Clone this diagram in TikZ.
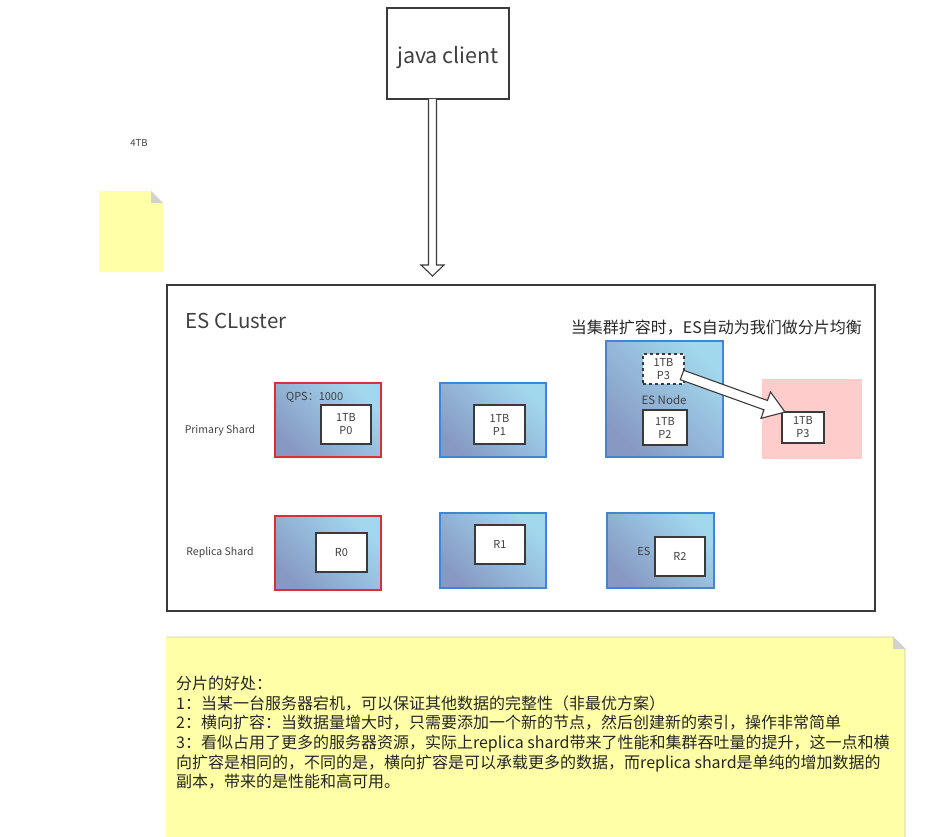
\documentclass[tikz,border=0pt]{standalone}
\usepackage{fontspec}
\setmainfont{Noto Sans CJK SC}
\usetikzlibrary{calc}
\definecolor{noteyellow}{HTML}{FFFFA8}
\definecolor{foldgray}{HTML}{D2D2D2}
\definecolor{notebord}{HTML}{C8C8B0}
\definecolor{gradDark}{HTML}{8799C3}
\definecolor{gradLight}{HTML}{A2D8EE}
\definecolor{shardred}{HTML}{DD2E35}
\definecolor{shardblue}{HTML}{3D87D6}
\definecolor{pinkbg}{HTML}{FFCCCC}
\definecolor{txtgray}{HTML}{404040}
\definecolor{linegray}{HTML}{3A3A3A}
\tikzset{
  shardbox/.style={draw=#1, line width=1.4pt, shading=axis, bottom color=gradDark, top color=gradLight, shading angle=-45,
    inner sep=0pt, outer sep=0pt, anchor=north west},
  databox/.style={draw=linegray, fill=white, line width=1.2pt, inner sep=0pt, outer sep=0pt, anchor=north west,
    align=center, text=txtgray, font=\fontsize{11}{13}\selectfont},
  smalllabel/.style={text=txtgray, font=\fontsize{11}{13}\selectfont, inner sep=0pt},
  hollowarrow/.style={draw=linegray, fill=white, line width=1.1pt, line join=miter},
}
\begin{document}
\begin{tikzpicture}[x=1pt,y=-1pt]
\useasboundingbox (0,0) rectangle (952,837);

% java client
\node[draw=linegray, line width=1.3pt, minimum width=122pt, minimum height=91pt, inner sep=0pt, outer sep=0pt,
  anchor=north west] (java) at (387,8) {};
\node[inner sep=0pt, text=txtgray, font=\fontsize{21.5}{24}\selectfont] (javatext) at ($(java.center)+(0,4)$) {java client};

% small note and 4TB
\node[smalllabel, font=\fontsize{9.5}{11}\selectfont] (tb4) at (139,143) {4TB};
\fill[noteyellow] (99,191) -- (151,191) -- (163,203) -- (163,272) -- (99,272) -- cycle;
\fill[foldgray] (151,191) -- (163,203) -- (151,203) -- cycle;

% cluster
\node[draw=linegray, line width=1.5pt, minimum width=708pt, minimum height=326pt, inner sep=0pt, outer sep=0pt,
  anchor=north west] (cluster) at (167,285) {};
\node[anchor=west, inner sep=0pt, text=txtgray, font=\fontsize{20.5}{24}\selectfont] (title) at (185,321) {ES CLuster};
\node[anchor=east, inner sep=0pt, text=black!85, font=\fontsize{16}{19}\selectfont] (balance) at (862,328) {当集群扩容时，ES自动为我们做分片均衡};

% vertical hollow arrow
\coordinate (arrS) at ($(java.south)+(-15.5,0)$);
\begin{scope}[shift={(arrS)}]
\draw[hollowarrow] (-4,0) -- (-4,166) -- (-11.5,166) -- (0,177) -- (11.5,166) -- (4,166) -- (4,0);
\end{scope}

% row labels
\node[smalllabel, font=\fontsize{10.5}{12}\selectfont] (prim) at (220,431) {Primary Shard};
\node[smalllabel, font=\fontsize{10.5}{12}\selectfont] (repl) at (220,553) {Replica Shard};

% primary row
\node[shardbox=shardred, minimum width=106pt, minimum height=74pt] (n0) at (275,383) {};
\node[smalllabel, anchor=west] (qps) at (286,397) {QPS：1000};
\node[databox, minimum width=50pt, minimum height=39pt] (p0) at (321,405) {1TB\\P0};

\node[shardbox=shardblue, minimum width=106pt, minimum height=74pt] (n1) at (440,383) {};
\node[databox, minimum width=51pt, minimum height=39pt] (p1) at (474,405) {1TB\\P1};

\node[shardbox=shardblue, minimum width=117pt, minimum height=116pt] (n2) at (606,341) {};
\node[databox, dashed, fill=white, minimum width=41pt, minimum height=30pt, line width=1.1pt] (p3d) at (643,354) {1TB\\P3};
\node[smalllabel, font=\fontsize{11.5}{13}\selectfont] (esnode) at (664,400) {ES Node};
\node[databox, minimum width=44pt, minimum height=35pt] (p2) at (643,410) {1TB\\P2};

\node[fill=pinkbg, minimum width=100pt, minimum height=80pt, inner sep=0pt, outer sep=0pt, anchor=north west] (newnode) at (762,379) {};
\node[databox, minimum width=42pt, minimum height=31pt] (p3) at (782,412) {1TB\\P3};

% diagonal hollow arrow
\coordinate (dS) at ($(p3d.east)+(-2,6)$);
\begin{scope}[shift={(dS)}, rotate=-19.8]
\draw[hollowarrow] (0,-5) -- (89,-5) -- (89,-14) -- (109.5,0) -- (89,14) -- (89,5) -- (0,5) -- cycle;
\end{scope}

% replica row
\node[shardbox=shardred, minimum width=106pt, minimum height=74pt] (m0) at (275,516) {};
\node[databox, minimum width=51pt, minimum height=39pt] (r0) at (316,533) {R0};

\node[shardbox=shardblue, minimum width=106pt, minimum height=75pt] (m1) at (440,513) {};
\node[databox, minimum width=50pt, minimum height=39pt] (r1) at (475,525) {R1};

\node[shardbox=shardblue, minimum width=107pt, minimum height=75pt] (m2) at (607,513) {};
\node[smalllabel] (es2) at (644,551) {ES};
\node[databox, minimum width=50pt, minimum height=39pt] (r2) at (655,537) {R2};

% bottom note
\fill[noteyellow] (166,637) -- (893,637) -- (905,649) -- (905,837) -- (166,837) -- cycle;
\draw[notebord, line width=0.8pt] (166,637) -- (893,637) -- (905,649) -- (905,837);
\fill[foldgray] (893,637) -- (905,649) -- (893,649) -- cycle;
\node[anchor=north west, align=left, inner sep=0pt, text=black!85, font=\fontsize{16}{19.6}\selectfont] (notetext) at (176,676)
{分片的好处：\\
1：当某一台服务器宕机，可以保证其他数据的完整性（非最优方案）\\
2：横向扩容：当数据量增大时，只需要添加一个新的节点，然后创建新的索引，操作非常简单\\
3：看似占用了更多的服务器资源，实际上replica shard带来了性能和集群吞吐量的提升，这一点和横\\
向扩容是相同的，不同的是，横向扩容是可以承载更多的数据，而replica shard是单纯的增加数据的\\
副本，带来的是性能和高可用。};
\end{tikzpicture}
\end{document}
